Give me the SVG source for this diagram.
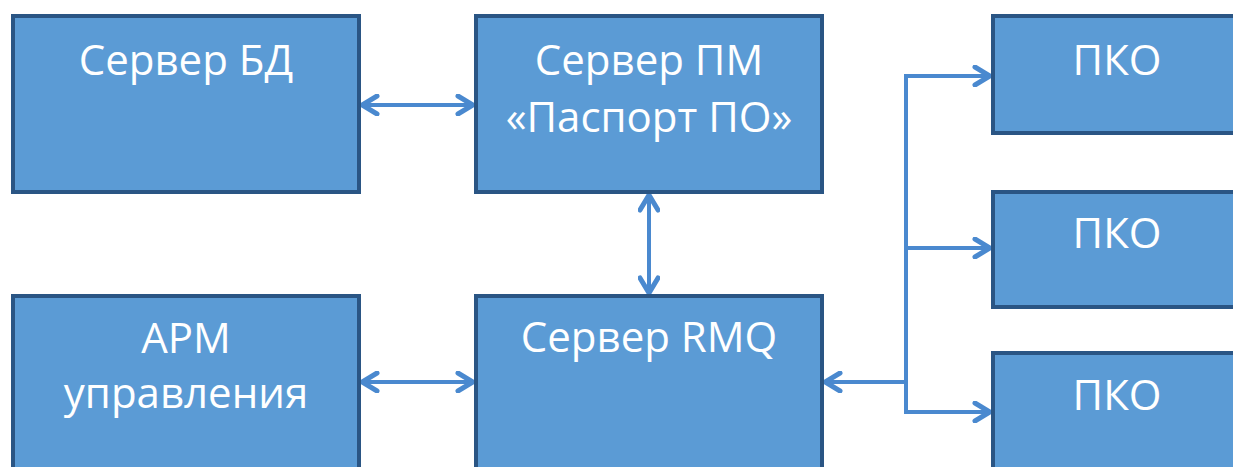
<svg xmlns="http://www.w3.org/2000/svg" width="1233" height="467" viewBox="0 0 1233 467">
<defs>
<style>
.box{fill:#5B9BD5;stroke:#2A5584;stroke-width:4}
.lbl{font-family:"Open Sans","Liberation Sans",sans-serif;font-size:42px;fill:#FFFFFF;text-anchor:middle}
.cn{fill:none;stroke:#4A89CF;stroke-width:4}
</style>
<marker id="ah" viewBox="0 0 22 22" refX="19" refY="11" markerWidth="22" markerHeight="22" markerUnits="userSpaceOnUse" orient="auto-start-reverse">
<path d="M4,2 L19,11 L4,20" fill="none" stroke="#4A89CF" stroke-width="5" stroke-linecap="round" stroke-linejoin="miter"/>
</marker>
</defs>
<rect width="1233" height="467" fill="#FFFFFF"/>
<g id="connectors">
<line class="cn" x1="362" y1="105" x2="473" y2="105" marker-start="url(#ah)" marker-end="url(#ah)"/>
<line class="cn" x1="649" y1="195" x2="649" y2="293" marker-start="url(#ah)" marker-end="url(#ah)"/>
<line class="cn" x1="362" y1="382" x2="473" y2="382" marker-start="url(#ah)" marker-end="url(#ah)"/>
<line class="cn" x1="825" y1="382" x2="906" y2="382" marker-start="url(#ah)"/>
<line class="cn" x1="906" y1="74" x2="906" y2="414"/>
<line class="cn" x1="904" y1="76" x2="990" y2="76" marker-end="url(#ah)"/>
<line class="cn" x1="904" y1="248" x2="990" y2="248" marker-end="url(#ah)"/>
<line class="cn" x1="904" y1="412" x2="990" y2="412" marker-end="url(#ah)"/>
</g>
<g id="node-db">
<rect class="box" x="13" y="16" width="346" height="176"/>
<text class="lbl" x="186" y="75">Сервер БД</text>
</g>
<g id="node-pm">
<rect class="box" x="476" y="16" width="346" height="176"/>
<text class="lbl" x="649" y="75">Сервер ПМ</text>
<text class="lbl" x="649" y="132">«Паспорт ПО»</text>
</g>
<g id="node-arm">
<rect class="box" x="13" y="296" width="346" height="190"/>
<text class="lbl" x="186" y="353">АРМ</text>
<text class="lbl" x="186" y="408">управления</text>
</g>
<g id="node-rmq">
<rect class="box" x="476" y="296" width="346" height="190"/>
<text class="lbl" x="649" y="352">Сервер RMQ</text>
</g>
<g id="node-pko1">
<rect class="box" x="993" y="16" width="260" height="117"/>
<text class="lbl" x="1117" y="75">ПКО</text>
</g>
<g id="node-pko2">
<rect class="box" x="993" y="192" width="260" height="115"/>
<text class="lbl" x="1117" y="248">ПКО</text>
</g>
<g id="node-pko3">
<rect class="box" x="993" y="353" width="260" height="130"/>
<text class="lbl" x="1117" y="410">ПКО</text>
</g>
</svg>
